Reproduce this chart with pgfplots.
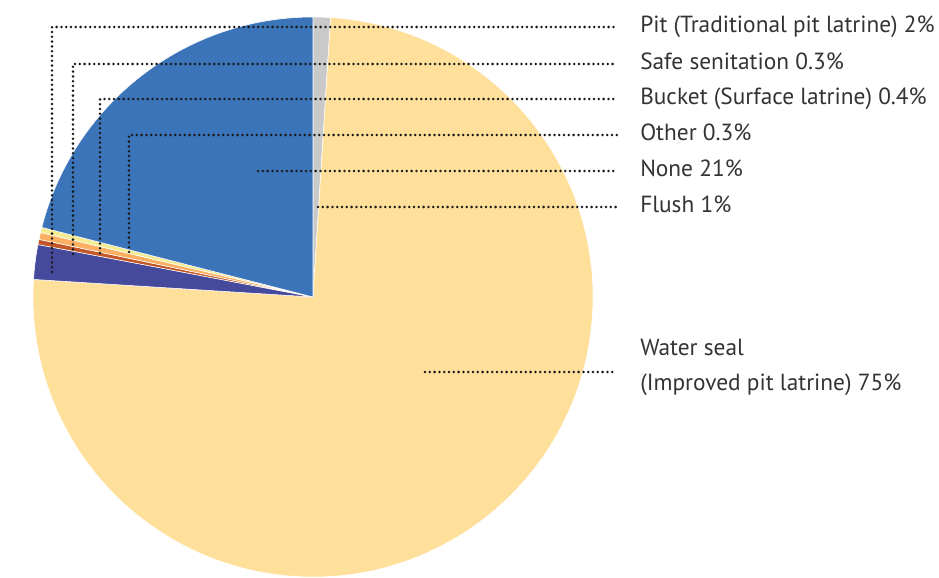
\documentclass[border=0pt]{standalone}
\usepackage{fontspec}
\setmainfont{PT Sans}
\usepackage{pgfplots}
\pgfplotsset{compat=1.18}
\usepackage{pgfplotstable}

\definecolor{cFlush}{HTML}{C9C9C9}
\definecolor{cWater}{HTML}{FFE09B}
\definecolor{cPit}{HTML}{464A9C}
\definecolor{cSafe}{HTML}{C2582A}
\definecolor{cBucket}{HTML}{FBB063}
\definecolor{cOther}{HTML}{F3EC90}
\definecolor{cNone}{HTML}{3C74B9}
\definecolor{txt}{HTML}{333333}

% share of households, clockwise from 12 o'clock
\pgfplotstableread[col sep=comma]{
name,value,colour
Flush,1,cFlush
Water seal,75,cWater
Pit,2,cPit
Safe senitation,0.3,cSafe
Bucket,0.4,cBucket
Other,0.3,cOther
None,21,cNone
}\pietable

\pgfplotstablegetrowsof{\pietable}
\pgfmathtruncatemacro\lastrow{\pgfplotsretval-1}
\xdef\angsum{90}
\foreach \i in {0,...,\lastrow}{%
  \pgfplotstablegetelem{\i}{value}\of\pietable
  \pgfmathsetmacro\b{\angsum-3.6*\pgfplotsretval}%
  \expandafter\xdef\csname sa\i\endcsname{\angsum}%
  \expandafter\xdef\csname ea\i\endcsname{\b}%
  \pgfplotstablegetelem{\i}{colour}\of\pietable
  \expandafter\xdef\csname col\i\endcsname{\pgfplotsretval}%
  \xdef\angsum{\b}%
}

\tikzset{leader/.style={line width=2.1pt, line cap=round,
    dash pattern=on 0pt off 3.6pt, color=black!90}}

\begin{document}
\begin{tikzpicture}
\useasboundingbox (0,0) rectangle (704.25pt,433.5pt);
\begin{axis}[scale only axis, width=704.25pt, height=433.5pt,
    xmin=0, xmax=939, ymin=0, ymax=578, y dir=reverse,
    hide axis, clip=false]
\pgfplotsinvokeforeach{0,...,\lastrow}{
  \edef\temp{\noexpand\fill[fill=\csname col#1\endcsname, draw=white, line width=0.4pt]
    (axis cs:313,297) -- ++(\csname sa#1\endcsname:210pt)
    arc[start angle=\csname sa#1\endcsname, end angle=\csname ea#1\endcsname, radius=210pt] -- cycle;}
  \temp
}
% leader lines
\draw[leader] (axis cs:52,272) -- (axis cs:52,27) -- (axis cs:617,27);
\draw[leader] (axis cs:73,254) -- (axis cs:73,64) -- (axis cs:617,64);
\draw[leader] (axis cs:100,253) -- (axis cs:100,99) -- (axis cs:617,99);
\draw[leader] (axis cs:129,252) -- (axis cs:129,135) -- (axis cs:617,135);
\draw[leader] (axis cs:258,171) -- (axis cs:617,171);
\draw[leader] (axis cs:318,207) -- (axis cs:617,207);
\draw[leader] (axis cs:425,372) -- (axis cs:617,372);
% labels
\begin{scope}[every node/.style={anchor=base west, inner sep=0pt, text=txt, font=\fontsize{17.5}{22}\selectfont}]
\node at (axis cs:640,32) {Pit (Traditional pit latrine) 2\%};
\node at (axis cs:640,69) {Safe senitation 0.3\%};
\node at (axis cs:640,104) {Bucket (Surface latrine) 0.4\%};
\node at (axis cs:640,140) {Other 0.3\%};
\node at (axis cs:640,176) {None 21\%};
\node at (axis cs:640,212) {Flush 1\%};
\node at (axis cs:640,355) {Water seal};
\node at (axis cs:640,390) {(Improved pit latrine) 75\%};
\end{scope}
\end{axis}
\end{tikzpicture}
\end{document}
